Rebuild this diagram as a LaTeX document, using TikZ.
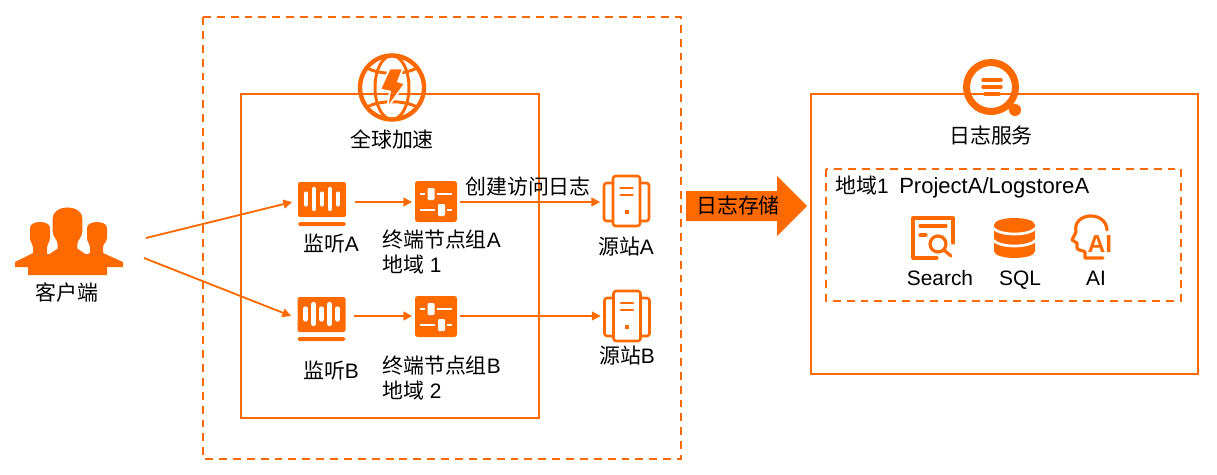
\documentclass[tikz,border=0pt]{standalone}
\usepackage{fontspec}
\setmainfont{Liberation Sans}
\newfontfamily\cjkfont{Noto Sans CJK SC}
\usetikzlibrary{calc,positioning,arrows.meta}
\definecolor{aliorange}{HTML}{FF6A00}
\newcommand{\zh}[1]{{\cjkfont #1}}

\tikzset{
  box/.style={draw=aliorange,line width=1.15pt},
  dashbox/.style={draw=aliorange,line width=1.15pt,dash pattern=on 4.5pt off 3.4pt},
  link/.style={draw=aliorange,line width=1.05pt,-{Triangle[length=5pt,width=5pt]}},
  lbl/.style={font=\fontsize{11.9pt}{14pt}\selectfont,text=black,inner sep=0pt},
  lblleft/.style={lbl,anchor=west},
  lblbase/.style={lbl,anchor=base},
  slot/.style={inner sep=0pt,outer sep=0pt,minimum width=#1,minimum height=20pt},
  thin icon/.style={draw=aliorange,line width=1.5pt,line cap=round,line join=round},
  bold icon/.style={thin icon,line width=1.8pt},
  listener/.pic={
    \fill[aliorange,rounded corners=1.2pt] (-24,-20) rectangle (24,15);
    \fill[aliorange,rounded corners=1.1pt] (-24,20) rectangle (24,24);
    \foreach \bx/\bh in {-16/5.5,-8/10,0/5.5,8/10,16/5.5}
      \draw[white,line width=2.4pt,line cap=round] (\bx,-3-\bh) -- (\bx,-3+\bh);
  },
  endgroup/.pic={
    \fill[aliorange,rounded corners=1.5pt] (-21,-21) rectangle (21,20);
    \draw[white,line width=1.5pt] (-16,-8) -- (-11,-8) (1.3,-8) -- (16,-8) (-16,8) -- (-1,8) (11,8) -- (16,8);
    \fill[white,rounded corners=.6pt] (-8.5,-14) rectangle (-1.5,-2);
    \fill[white,rounded corners=.6pt] (2,2) rectangle (9,14);
  },
  origin/.pic={
    \draw[thin icon,rounded corners=1.5pt] (-13.5,-25) rectangle (13.5,25);
    \draw[thin icon,rounded corners=1.5pt] (-13.5,-18) -- (-22.5,-18) -- (-22.5,20) -- (-13.5,20);
    \draw[thin icon,rounded corners=1.5pt] (13.5,-18) -- (22.5,-18) -- (22.5,20) -- (13.5,20);
    \draw[thin icon] (-6,-13) -- (6,-13) (-6,-6) -- (6,-6);
    \fill[aliorange] (-2,9) rectangle (2,13);
  },
}

\begin{document}
\begin{tikzpicture}[x=0.02cm,y=-0.02cm]
  \useasboundingbox (0,0) rectangle (1217,474);

  % --- frames ---
  \draw[dashbox] (203,17) rectangle (681,459);
  \draw[box] (241,94) rectangle (539,418);
  \draw[box] (811,94) rectangle (1198,374);
  \draw[dashbox] (826,169) rectangle (1181,301);

  % --- client: three people ---
  \begin{scope}[aliorange]
    \fill (30,228) .. controls (30,220) and (50,220) .. (50,228) -- (50,238) .. controls (50,242) and (47,244) .. (47,247) -- (47,253) -- (56,258) -- (56,267) -- (15,267) -- (15,262) -- (33,253) -- (33,247) .. controls (33,244) and (30,242) .. (30,238) -- cycle;
    \fill (87,228) .. controls (87,220) and (107,220) .. (107,228) -- (107,238) .. controls (107,242) and (103,244) .. (103,247) -- (103,253) -- (123,262) -- (123,267) -- (80,267) -- (80,258) -- (90,253) -- (90,247) .. controls (90,244) and (87,242) .. (87,238) -- cycle;
    \filldraw[draw=white,line width=0.8pt] (52,218) .. controls (52,203) and (83,203) .. (83,218) -- (83,232) .. controls (83,238) and (78,240) .. (78,245) -- (78,248) -- (90,256) -- (45,256) -- (57,248) -- (57,245) .. controls (57,240) and (52,238) .. (52,232) -- cycle;
    \fill (42,254) -- (93,254) -- (107,262) -- (107,275) -- (28,275) -- (28,262) -- cycle;
  \end{scope}
  \node[lbl] (client) at (67,293) {\zh{客户端}};
  \coordinate (cliup) at (146,238);
  \coordinate (clidown) at (144,258);

  % --- global accelerator: globe with bolt ---
  \begin{scope}[aliorange]
    \draw[line width=2.5pt] (392,87.5) circle (32);
    \draw[line width=1.7pt] (392,87.5) ellipse (17 and 32);
    \draw[line width=1.7pt] (367,68) .. controls (380,75) and (404,75) .. (417,68);
    \draw[line width=1.7pt] (367,107) .. controls (380,100) and (404,100) .. (417,107);
    \fill[draw=white,line width=1pt] (389.7,68.5) -- (403,68.5) -- (398,81.5) -- (405,83.5) -- (387,108.5) -- (390,91.5) -- (380,89.5) -- cycle;
  \end{scope}
  \node[lbl] (accel) at (392,139) {\zh{全球加速}};

  % --- row A ---
  \node[slot=35.7pt] (lisA) at (323.5,202) {};
  \pic at (322,202) {listener};
  \node[slot=27.2pt] (grpA) at (436,202) {};
  \pic at (436,202) {endgroup};
  \node[slot=30pt] (srcA) at (626.5,202) {};
  \pic at (626.5,201) {origin};
  \node[lbl] (lisAtxt) at (331,244) {\zh{监听}A};
  \node[lblleft] (grpAtxt) at (382,240) {\zh{终端节点组}A};
  \node[lblleft] (regA) at (382,265) {\zh{地域} 1};
  \node[lbl] (srcAtxt) at (626,247) {\zh{源站}A};
  \node[lbl] (logtxt) at (528,187) {\zh{创建访问日志}};

  % --- row B ---
  \node[slot=35.7pt] (lisB) at (322.5,316) {};
  \pic at (321.5,317) {listener};
  \node[slot=27.2pt] (grpB) at (436,316) {};
  \pic at (436,317) {endgroup};
  \node[slot=30pt] (srcB) at (627,316) {};
  \pic at (627,316) {origin};
  \node[lbl] (lisBtxt) at (331,371) {\zh{监听}B};
  \node[lblleft] (grpBtxt) at (382,366) {\zh{终端节点组}B};
  \node[lblleft] (regB) at (382,391) {\zh{地域} 2};
  \node[lbl] (srcBtxt) at (627,356) {\zh{源站}B};

  % --- connectors ---
  \draw[link] (cliup) -- (lisA.west);
  \draw[link] (clidown) -- (lisB.west);
  \draw[link] (lisA) -- (grpA);
  \draw[link] (grpA) -- (srcA);
  \draw[link] (lisB) -- (grpB);
  \draw[link] (grpB) -- (srcB);

  % --- block arrow ---
  \fill[aliorange] (686,191) -- (777,191) -- (777,176) -- (807,206) -- (777,236) -- (777,221) -- (686,221) -- cycle;
  \node[lbl] (store) at (738,206) {\zh{日志存储}};

  % --- log service ---
  \begin{scope}[aliorange]
    \draw[line width=4pt] (991,87) circle (24.5);
    \draw[line width=4pt] (1008,104) -- (1015,111);
    \fill (1015,110) circle (6);
    \draw[line width=2pt,line cap=round] (983,80) -- (1001,80) (983,87) -- (1001,87) (985,94) -- (999,94);
  \end{scope}
  \node[lbl] (logsvc) at (991,136) {\zh{日志服务}};
  \node[lblleft] (project) at (835,187) {\zh{地域}1\hspace{0.5em}{\fontsize{12.55pt}{14pt}\selectfont ProjectA/LogstoreA}};

  % --- search icon ---
  \draw[bold icon] (953,243) -- (953,218) -- (913,218) -- (913,258) -- (937,258);
  \draw[bold icon] (920,226) -- (946,226) (920,235) -- (926,235);
  \draw[bold icon] (938,244) circle (8) (944,250) -- (951,256);
  \node[lblbase] (search) at (940,285) {Search};

  % --- sql icon ---
  \fill[aliorange] (994,225) .. controls (994,215.7) and (1035,215.7) .. (1035,225) -- (1035,251) .. controls (1035,260.3) and (994,260.3) .. (994,251) -- cycle;
  \draw[white,line width=1.5pt] (993,228) .. controls (1000,236) and (1029,236) .. (1036,228);
  \draw[white,line width=1.5pt] (993,240) .. controls (1000,248) and (1029,248) .. (1036,240);
  \node[lblbase] (sql) at (1020,285) {SQL};

  % --- ai icon ---
  \draw[bold icon] (1107,230) .. controls (1106,210) and (1072,212) .. (1076,232) -- (1072,240) -- (1077,243) -- (1077,248) .. controls (1078,251) and (1083,250) .. (1085,252) -- (1085,258) -- (1103,258);
  \node[lbl,text=aliorange,font=\fontsize{14pt}{14pt}\selectfont\bfseries] (aimark) at (1100,244) {AI};
  \node[lblbase] (ai) at (1096,285) {AI};
\end{tikzpicture}
\end{document}
